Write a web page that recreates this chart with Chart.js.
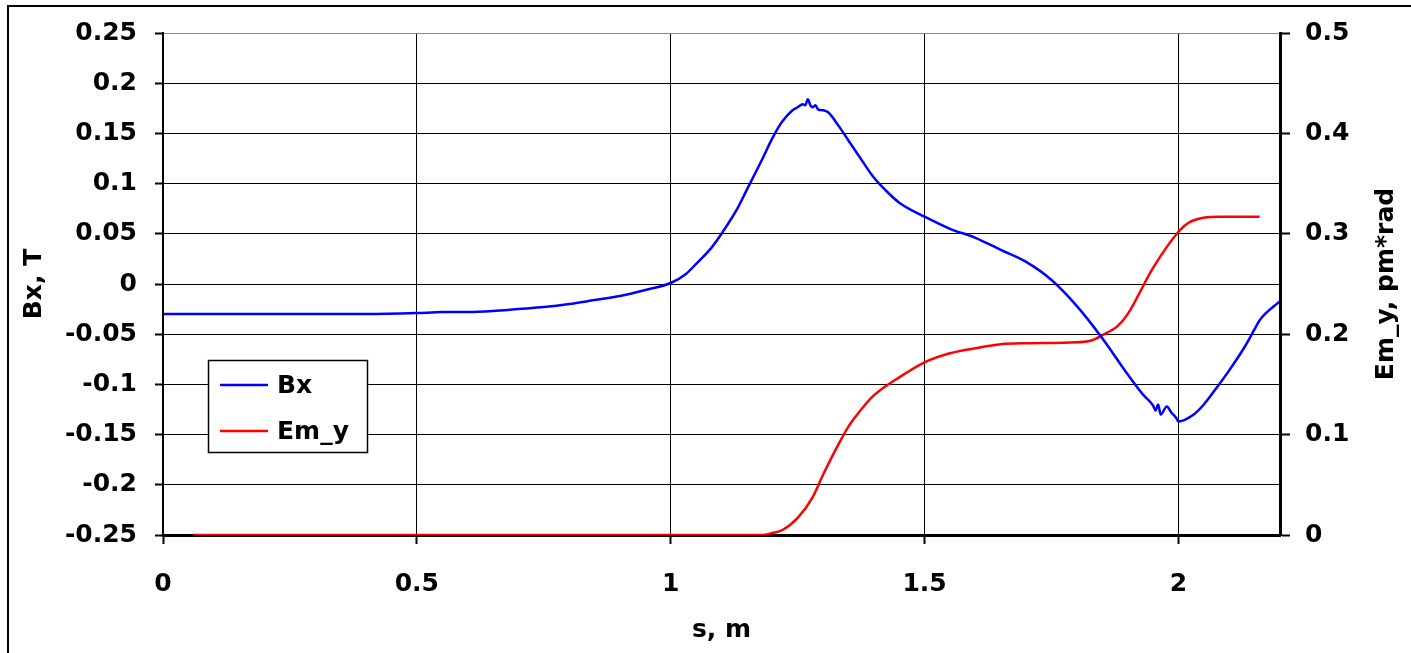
<!DOCTYPE html>
<html>
<head>
<meta charset="utf-8">
<script src="https://cdn.jsdelivr.net/npm/chart.js@4/dist/chart.umd.min.js"></script>
<style>
  html, body { margin: 0; padding: 0; background: #fff; overflow: hidden; }
  #chart { display: block; }
</style>
</head>
<body>
<canvas id="chart" width="1411" height="653"></canvas>
<script>
// Bx along s (T)
const bxS = [0, 0.1, 0.2, 0.3, 0.4, 0.5, 0.55, 0.6, 0.65, 0.7, 0.75, 0.8, 0.85, 0.9, 0.95,
    1.0, 1.03, 1.05, 1.08, 1.1, 1.13, 1.15, 1.18, 1.2, 1.22, 1.24, 1.25, 1.26, 1.265, 1.27,
    1.275, 1.28, 1.285, 1.29, 1.3, 1.31, 1.33, 1.35, 1.37, 1.4, 1.43, 1.45, 1.5, 1.55, 1.6,
    1.65, 1.7, 1.75, 1.8, 1.85, 1.9, 1.93, 1.95, 1.955, 1.96, 1.965, 1.977, 1.986, 1.995, 2.0,
    2.03, 2.05, 2.08, 2.1, 2.13, 2.15, 2.16, 2.2];
const bxValues = [-0.030, -0.030, -0.030, -0.030, -0.030, -0.029, -0.028, -0.028, -0.027, -0.025,
    -0.023, -0.020, -0.016, -0.012, -0.006, 0.001, 0.010, 0.020, 0.036, 0.050, 0.074, 0.094,
    0.124, 0.145, 0.162, 0.173, 0.176, 0.179, 0.178, 0.184, 0.178, 0.176, 0.178, 0.174, 0.173,
    0.171, 0.158, 0.143, 0.128, 0.106, 0.090, 0.081, 0.067, 0.055, 0.046, 0.034, 0.022, 0.004,
    -0.022, -0.054, -0.090, -0.110, -0.121, -0.126, -0.120, -0.130, -0.122, -0.128, -0.133, -0.137,
    -0.130, -0.120, -0.100, -0.086, -0.063, -0.045, -0.036, -0.017];

// Em_y along s (pm*rad)
const emS = [0.06, 0.5, 1.0, 1.18, 1.2, 1.22, 1.25, 1.28, 1.3, 1.33, 1.35, 1.38, 1.4, 1.45, 1.5,
    1.55, 1.6, 1.65, 1.7, 1.8, 1.83, 1.85, 1.88, 1.9, 1.95, 2.0, 2.02, 2.05, 2.08, 2.16];
const emValues = [0, 0, 0, 0, 0.002, 0.005, 0.017, 0.038, 0.060, 0.090, 0.108, 0.128, 0.139, 0.157,
    0.172, 0.181, 0.186, 0.190, 0.191, 0.192, 0.194, 0.199, 0.208, 0.220, 0.266, 0.302, 0.311,
    0.316, 0.317, 0.317];

const xTicks = [0, 0.5, 1, 1.5, 2];
const leftTicks = [-0.25, -0.2, -0.15, -0.1, -0.05, 0, 0.05, 0.1, 0.15, 0.2, 0.25];
const rightTicks = [0, 0.1, 0.2, 0.3, 0.4, 0.5];

const FONT = 'DejaVu Sans';
const fmt = (v) => String(Number(v.toFixed(2)));

const frame = {
    id: 'frame',
    beforeDraw(chart) {
        const ctx = chart.ctx;
        ctx.save();
        ctx.fillStyle = '#fff';
        ctx.fillRect(0, 0, chart.width, chart.height);
        ctx.strokeStyle = '#000';
        ctx.lineWidth = 2;
        ctx.strokeRect(8, 6, 1420, 700);
        ctx.restore();
    },
    afterDraw(chart) {
        const ctx = chart.ctx;
        const area = chart.chartArea;
        ctx.save();
        ctx.fillStyle = '#000';
        ctx.font = 'bold 25px "' + FONT + '"';
        ctx.textAlign = 'center';
        ctx.textBaseline = 'middle';
        // axis titles
        ctx.fillText('s, m', (area.left + area.right) / 2, 630);
        ctx.save();
        ctx.translate(34, (area.top + area.bottom) / 2);
        ctx.rotate(-Math.PI / 2);
        ctx.fillText('Bx, T', 0, 0);
        ctx.restore();
        ctx.save();
        ctx.translate(1386, (area.top + area.bottom) / 2);
        ctx.rotate(-Math.PI / 2);
        ctx.fillText('Em_y, pm*rad', 0, 0);
        ctx.restore();

        // legend box
        ctx.fillStyle = '#fff';
        ctx.fillRect(208, 360, 159, 92);
        ctx.strokeStyle = '#000';
        ctx.lineWidth = 1.5;
        ctx.strokeRect(208.5, 360.5, 159, 92);
        ctx.textAlign = 'left';
        chart.data.datasets.forEach((ds, i) => {
            const y = 385 + i * 46;
            ctx.strokeStyle = ds.borderColor;
            ctx.lineWidth = 2.5;
            ctx.beginPath();
            ctx.moveTo(220, y);
            ctx.lineTo(268, y);
            ctx.stroke();
            ctx.fillStyle = '#000';
            ctx.fillText(ds.label, 277, y + 1);
        });
        ctx.restore();
    },
};

new Chart(document.getElementById('chart'), {
    type: 'line',
    data: {
        datasets: [{
            label: 'Bx',
            data: bxS.map((s, i) => ({ x: s, y: bxValues[i] })),
            borderColor: '#0000ff',
            borderWidth: 2.5,
            pointRadius: 0,
            cubicInterpolationMode: 'monotone',
            yAxisID: 'y',
        }, {
            label: 'Em_y',
            data: emS.map((s, i) => ({ x: s, y: emValues[i] })),
            borderColor: '#ff0000',
            borderWidth: 2.5,
            pointRadius: 0,
            cubicInterpolationMode: 'monotone',
            yAxisID: 'y2',
        }],
    },
    options: {
        responsive: false,
        animation: false,
        devicePixelRatio: 1,
        layout: { padding: { top: 33, left: 0, right: 0, bottom: 0 } },
        plugins: {
            legend: { display: false },
            tooltip: { enabled: false },
        },
        scales: {
            x: {
                type: 'linear',
                min: 0,
                max: 2.2,
                afterFit: (s) => { s.height = 118; },
                afterBuildTicks: (s) => { s.ticks = xTicks.map((v) => ({ value: v })); },
                ticks: {
                    font: { family: FONT, size: 25, weight: 'bold' },
                    color: '#000',
                    padding: 25,
                    maxRotation: 0,
                    callback: fmt,
                },
                grid: { color: '#000', lineWidth: 1, tickLength: 9, tickColor: '#000', tickWidth: 2 },
                border: { color: '#000', width: 3 },
            },
            y: {
                position: 'left',
                min: -0.25,
                max: 0.25,
                afterFit: (s) => { s.width = 163; },
                afterBuildTicks: (s) => { s.ticks = leftTicks.map((v) => ({ value: v })); },
                ticks: {
                    font: { family: FONT, size: 25, weight: 'bold' },
                    color: '#000',
                    padding: 18,
                    callback: fmt,
                },
                grid: {
                    color: (c) => (c.tick && c.tick.value > 0.249 ? '#888' : '#000'),
                    lineWidth: 1,
                    tickLength: 8,
                    tickColor: '#000',
                    tickWidth: 2,
                },
                border: { color: '#000', width: 2 },
            },
            y2: {
                position: 'right',
                min: 0,
                max: 0.5,
                afterFit: (s) => { s.width = 131; },
                afterBuildTicks: (s) => { s.ticks = rightTicks.map((v) => ({ value: v })); },
                ticks: {
                    font: { family: FONT, size: 25, weight: 'bold' },
                    color: '#000',
                    padding: 15,
                    callback: fmt,
                },
                grid: { drawOnChartArea: false, tickLength: 10, tickColor: '#000', tickWidth: 2 },
                border: { color: '#000', width: 3 },
            },
        },
    },
    plugins: [frame],
});
</script>
</body>
</html>
